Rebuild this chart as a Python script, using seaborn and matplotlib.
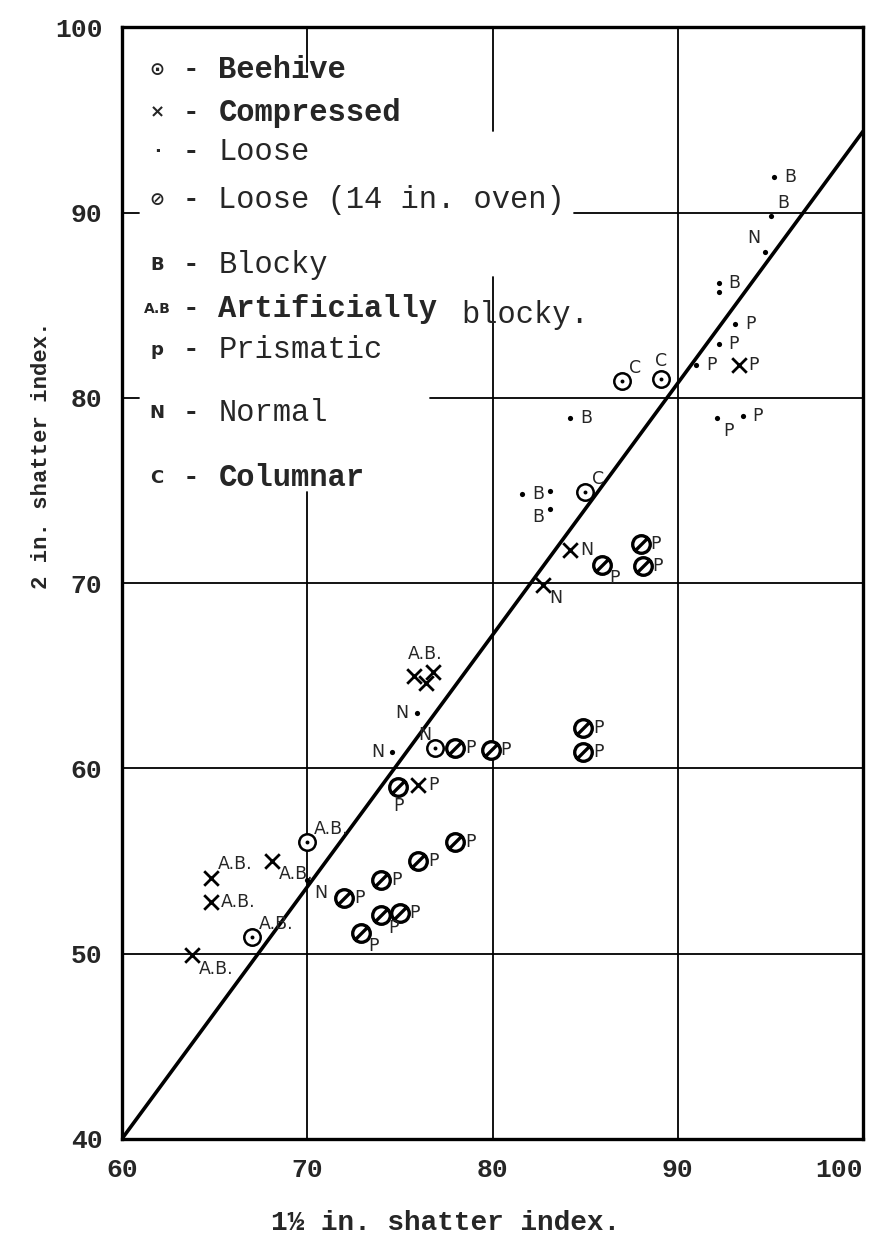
import matplotlib
matplotlib.use("Agg")
import matplotlib.pyplot as plt
from matplotlib.path import Path
import numpy as np
import pandas as pd
import seaborn as sns

sns.set_style("white")
plt.rcParams["font.family"] = ["Liberation Mono", "DejaVu Sans"]

# ---- data: 1.5 in. vs 2 in. shatter index by coke type ----
beehive_x = [87.0, 89.1, 85.0, 76.9, 70.0, 67.0]
beehive_y = [80.9, 81.0, 74.9, 61.1, 56.0, 50.9]
beehive_lbl = ["C", "C", "C", "N", "A.B.", "A.B."]
beehive_pos = ["ur", "a", "ur", "ul", "ur", "ur"]

compressed_x = [93.3, 84.2, 82.7, 75.75, 76.8, 76.4, 76.0, 68.1, 64.8, 64.8, 63.8]
compressed_y = [81.8, 71.8, 69.9, 65.0, 65.2, 64.6, 59.1, 55.0, 54.1, 52.8, 49.9]
compressed_lbl = ["P", "N", "N", "A.B.", "", "", "P", "A.B.", "A.B.", "A.B.", "A.B."]
compressed_pos = ["r", "r", "br", "grp", "", "", "r", "br", "ur", "r", "br"]

loose_x = [95.2, 95.0, 94.7, 92.2, 92.2, 93.1, 92.2, 91.0, 84.2, 92.1, 93.5,
           81.6, 83.1, 83.1, 75.9, 74.6, 70.0]
loose_y = [91.9, 89.8, 87.9, 86.2, 85.7, 84.0, 82.9, 81.8, 78.9, 78.9, 79.0,
           74.8, 75.0, 74.0, 63.0, 60.9, 54.0]
loose_lbl = ["B", "B", "N", "B", "", "P", "P", "P", "B", "P", "P",
             "B", "", "B", "N", "N", "N"]
loose_pos = ["r", "ur", "ul", "r", "", "r", "r", "r", "r", "br", "r",
             "r", "", "bl", "l", "l", "br"]

oven14_x = [85.9, 88.0, 88.1, 78.0, 79.9, 84.9, 84.9, 74.9, 78.0, 76.0,
            74.0, 72.0, 74.0, 75.0, 72.9]
oven14_y = [71.0, 72.1, 70.9, 61.1, 61.0, 62.2, 60.9, 59.0, 56.0, 55.0,
            54.0, 53.0, 52.1, 52.2, 51.1]
oven14_lbl = ["P"] * 15
oven14_pos = ["br", "r", "r", "r", "r", "r", "r", "b", "r", "r",
              "r", "r", "br", "r", "br"]

# fitted relation drawn across the chart
fit_x = [60, 100]
fit_y = [40.0, 94.4]

x_ticks = [60, 70, 80, 90, 100]
y_ticks = [40, 50, 60, 70, 80, 90, 100]

legend_rows = [
    ("\u2299", "Beehive"),
    ("\u00d7", "Compressed"),
    ("\u00b7", "Loose"),
    ("\u2298", "Loose (14 in. oven)"),
    ("B", "Blocky"),
    ("A.B", "Artificially"),
    ("p", "Prismatic"),
    ("N", "Normal"),
    ("C", "Columnar"),
]

# ---- figure ----
fig = plt.figure(figsize=(8.71, 12.46), dpi=100)
ax = fig.add_axes([0.140, 0.086, 0.851, 0.892])
ax.set_xlim(60, 100)
ax.set_ylim(40, 100)

# hand-ruled grid: some rules are interrupted by the key
grid_v = [(70, 97.6, 100), (70, 40, 74.9), (80, 94.4, 100), (80, 40, 86.5), (90, 40, 100)]
grid_h = [(90, 60, 60.9), (90, 84.4, 100), (80, 60, 60.9), (80, 76.6, 100),
          (70, 60, 100), (60, 60, 100), (50, 60, 100)]
for gx, y0, y1 in grid_v:
    ax.plot([gx, gx], [y0, y1], color="black", lw=1.3, zorder=1)
for gy, x0, x1 in grid_h:
    ax.plot([x0, x1], [gy, gy], color="black", lw=1.3, zorder=1)

sns.lineplot(x=fit_x, y=fit_y, ax=ax, color="black", lw=2.6, zorder=2)

# marker shapes
slashed = Path.make_compound_path(
    Path.unit_circle(),
    Path([(-0.8, -0.8), (0.8, 0.8)], [Path.MOVETO, Path.LINETO]),
)

df_bee = pd.DataFrame({"x": beehive_x, "y": beehive_y})
df_cmp = pd.DataFrame({"x": compressed_x, "y": compressed_y})
df_loo = pd.DataFrame({"x": loose_x, "y": loose_y})
df_ovn = pd.DataFrame({"x": oven14_x, "y": oven14_y})

sns.scatterplot(data=df_bee, x="x", y="y", ax=ax, marker="o", s=140,
                facecolor="white", edgecolor="black", linewidth=1.8, zorder=4)
sns.scatterplot(data=df_bee, x="x", y="y", ax=ax, marker="o", s=8,
                color="black", edgecolor="black", linewidth=0, zorder=5)
sns.scatterplot(data=df_cmp, x="x", y="y", ax=ax, marker="x", s=110,
                color="black", linewidth=2.0, zorder=4)
sns.scatterplot(data=df_loo, x="x", y="y", ax=ax, marker="o", s=14,
                color="black", edgecolor="black", linewidth=0, zorder=4)
sns.scatterplot(data=df_ovn, x="x", y="y", ax=ax, marker=slashed, s=160,
                facecolor="white", edgecolor="black", linewidth=2.4, zorder=4)

# point annotations
offsets = {
    "r": ((7, 0), "left", "center"),
    "ur": ((5, 3), "left", "bottom"),
    "br": ((5, -3), "left", "top"),
    "l": ((-6, 0), "right", "center"),
    "bl": ((-4, 1), "right", "top"),
    "ul": ((-3, 3), "right", "bottom"),
    "a": ((0, 7), "center", "bottom"),
    "b": ((0, -7), "center", "top"),
    "grp": ((8, 9), "center", "bottom"),
}
for xs, ys, lbls, poss in [
    (beehive_x, beehive_y, beehive_lbl, beehive_pos),
    (compressed_x, compressed_y, compressed_lbl, compressed_pos),
    (loose_x, loose_y, loose_lbl, loose_pos),
    (oven14_x, oven14_y, oven14_lbl, oven14_pos),
]:
    for xv, yv, lb, ps in zip(xs, ys, lbls, poss):
        if not lb:
            continue
        (dx, dy), ha, va = offsets[ps]
        ax.annotate(lb, (xv, yv), xytext=(dx, dy), textcoords="offset points",
                    ha=ha, va=va, fontsize=12.5, family="DejaVu Sans", zorder=6)

# key
key_y = [97.7, 95.4, 93.3, 90.7, 87.2, 84.8, 82.6, 79.2, 75.7]
bold_rows = {"Beehive", "Compressed", "Artificially", "Columnar"}
for (sym, name), ky in zip(legend_rows, key_y):
    ax.text(61.9, ky, sym, ha="center", va="center",
            fontsize=13 if len(sym) == 1 else 10, family="DejaVu Sans",
            fontweight="bold")
    ax.text(63.7, ky, "-", ha="center", va="center", fontsize=20, fontweight="bold")
    ax.text(65.2, ky, name, ha="left", va="center", fontsize=22,
            fontweight="bold" if name in bold_rows else "normal")
ax.text(78.3, 84.5, "blocky.", ha="left", va="center", fontsize=22)

# axes styling
for sp in ax.spines.values():
    sp.set_linewidth(2.4)
    sp.set_color("black")
ax.set_xticks(x_ticks)
ax.set_yticks(y_ticks)
ax.set_xticklabels([str(v) for v in x_ticks], fontsize=19, fontweight="bold")
ax.set_yticklabels([str(v) for v in y_ticks], fontsize=19, fontweight="bold")
ax.get_xticklabels()[-1].set_horizontalalignment("right")
ax.tick_params(length=0)
ax.tick_params(axis="x", pad=14)
ax.tick_params(axis="y", pad=14)
ax.grid(False)

ax.set_xlabel("1\u00bd in. shatter index.", fontsize=20, fontweight="bold")
ax.set_ylabel("2 in. shatter index.", fontsize=16, fontweight="bold")
ax.xaxis.set_label_coords(0.436, -0.064)
ax.yaxis.set_label_coords(-0.094, 0.615)

fig.savefig("out.png", dpi=100, facecolor="white")
